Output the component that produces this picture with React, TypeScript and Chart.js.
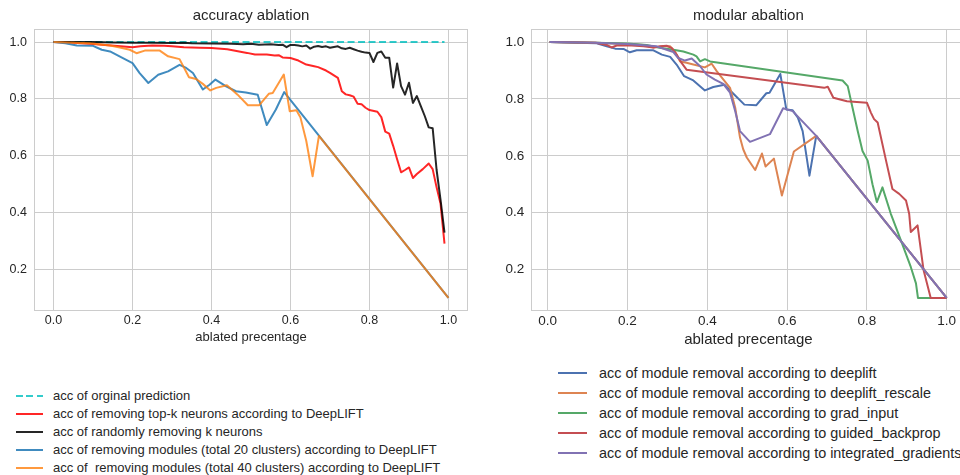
import React, { useEffect, useRef } from 'react';
import { Chart, registerables } from 'chart.js';

Chart.register(...registerables);

const FONT = "'Liberation Sans', Arial, sans-serif";
const TEXT = '#262626';
const GRID = '#cccccc';

const xTicks = [0, 0.2, 0.4, 0.6, 0.8, 1.0];
const yTicks = [0.2, 0.4, 0.6, 0.8, 1.0];

// ---------- left: accuracy ablation ----------
const origX = [0, 0.99];
const origY = [1.0, 1.0];

const topkX = [0, 0.05, 0.1, 0.13, 0.17, 0.2, 0.22, 0.25, 0.28, 0.3, 0.33, 0.37, 0.4, 0.44, 0.47, 0.49, 0.51, 0.54, 0.56, 0.57, 0.58, 0.6, 0.62, 0.64, 0.66, 0.67, 0.69, 0.7, 0.72, 0.73, 0.74, 0.75, 0.76, 0.77, 0.78, 0.79, 0.8, 0.82, 0.83, 0.84, 0.85, 0.86, 0.87, 0.88, 0.89, 0.9, 0.91, 0.92, 0.935, 0.95, 0.96, 0.97, 0.98, 0.99];
const topkY = [1, 0.998, 0.993, 0.99, 0.985, 0.982, 0.985, 0.988, 0.987, 0.985, 0.982, 0.98, 0.979, 0.975, 0.967, 0.962, 0.956, 0.956, 0.953, 0.954, 0.946, 0.944, 0.935, 0.921, 0.915, 0.912, 0.9, 0.892, 0.874, 0.827, 0.816, 0.813, 0.808, 0.783, 0.781, 0.769, 0.761, 0.755, 0.736, 0.685, 0.678, 0.635, 0.588, 0.542, 0.55, 0.559, 0.522, 0.536, 0.553, 0.573, 0.553, 0.489, 0.431, 0.291];

const randX = [0, 0.05, 0.1, 0.15, 0.2, 0.25, 0.3, 0.33, 0.35, 0.4, 0.45, 0.48, 0.5, 0.52, 0.55, 0.57, 0.58, 0.59, 0.6, 0.61, 0.62, 0.63, 0.64, 0.65, 0.66, 0.67, 0.68, 0.69, 0.7, 0.71, 0.72, 0.73, 0.74, 0.75, 0.76, 0.77, 0.78, 0.79, 0.8, 0.81, 0.82, 0.83, 0.84, 0.85, 0.86, 0.87, 0.88, 0.89, 0.9, 0.91, 0.92, 0.93, 0.94, 0.95, 0.96, 0.97, 0.98, 0.99];
const randY = [1, 1, 1, 0.999, 0.998, 0.998, 0.997, 0.998, 0.996, 0.995, 0.994, 0.992, 0.994, 0.991, 0.992, 0.99, 0.991, 0.982, 0.99, 0.99, 0.988, 0.985, 0.988, 0.977, 0.984, 0.986, 0.983, 0.985, 0.98, 0.983, 0.985, 0.978, 0.976, 0.98, 0.975, 0.97, 0.966, 0.963, 0.962, 0.93, 0.962, 0.967, 0.945, 0.945, 0.84, 0.925, 0.845, 0.815, 0.857, 0.786, 0.81, 0.775, 0.74, 0.7, 0.697, 0.55, 0.445, 0.33];

const mod20X = [0, 0.03, 0.059, 0.1, 0.122, 0.143, 0.172, 0.2, 0.218, 0.24, 0.265, 0.29, 0.319, 0.336, 0.353, 0.378, 0.395, 0.41, 0.437, 0.462, 0.487, 0.517, 0.54, 0.563, 0.584, 1.0];
const mod20Y = [1, 0.996, 0.988, 0.987, 0.973, 0.967, 0.946, 0.926, 0.891, 0.856, 0.885, 0.897, 0.92, 0.909, 0.891, 0.833, 0.85, 0.868, 0.844, 0.827, 0.823, 0.815, 0.708, 0.763, 0.824, 0.1];

const mod40X = [0, 0.092, 0.143, 0.168, 0.193, 0.21, 0.231, 0.269, 0.29, 0.319, 0.343, 0.361, 0.378, 0.397, 0.412, 0.439, 0.466, 0.492, 0.521, 0.545, 0.555, 0.583, 0.598, 0.615, 0.625, 0.64, 0.656, 0.672, 1.0];
const mod40Y = [1, 0.996, 0.988, 0.981, 0.973, 0.961, 0.97, 0.97, 0.95, 0.94, 0.876, 0.87, 0.853, 0.83, 0.839, 0.848, 0.815, 0.778, 0.778, 0.818, 0.821, 0.886, 0.757, 0.76, 0.736, 0.652, 0.528, 0.67, 0.1];

// ---------- right: modular abaltion ----------
const dlX = [0.005, 0.123, 0.148, 0.169, 0.19, 0.206, 0.223, 0.265, 0.286, 0.307, 0.323, 0.342, 0.365, 0.394, 0.415, 0.443, 0.468, 0.493, 0.523, 0.548, 0.556, 0.583, 0.598, 0.614, 0.627, 0.639, 0.656, 0.673, 1.0];
const dlY = [1, 0.996, 0.985, 0.977, 0.976, 0.964, 0.971, 0.971, 0.956, 0.948, 0.921, 0.88, 0.865, 0.83, 0.842, 0.85, 0.815, 0.78, 0.778, 0.82, 0.822, 0.888, 0.763, 0.76, 0.734, 0.687, 0.53, 0.67, 0.1];

const dlrX = [0.005, 0.12, 0.2, 0.24, 0.265, 0.29, 0.307, 0.319, 0.332, 0.348, 0.365, 0.394, 0.411, 0.424, 0.444, 0.457, 0.47, 0.482, 0.49, 0.499, 0.52, 0.537, 0.546, 0.567, 0.587, 0.617, 0.673, 1.0];
const dlrY = [1, 0.998, 0.993, 0.99, 0.981, 0.985, 0.985, 0.967, 0.932, 0.927, 0.921, 0.911, 0.924, 0.897, 0.862, 0.839, 0.769, 0.664, 0.623, 0.594, 0.55, 0.608, 0.562, 0.59, 0.46, 0.615, 0.67, 0.1];

const giX = [0.005, 0.12, 0.2, 0.248, 0.28, 0.315, 0.34, 0.365, 0.373, 0.382, 0.394, 0.407, 0.739, 0.752, 0.764, 0.777, 0.789, 0.802, 0.814, 0.825, 0.839, 0.86, 0.885, 0.91, 0.923, 0.928, 1.0];
const giY = [1, 0.998, 0.995, 0.99, 0.98, 0.973, 0.967, 0.956, 0.95, 0.932, 0.94, 0.932, 0.865, 0.845, 0.769, 0.687, 0.617, 0.583, 0.5, 0.437, 0.489, 0.396, 0.303, 0.209, 0.151, 0.1, 0.1];

const gbX = [0.005, 0.12, 0.148, 0.16, 0.173, 0.21, 0.24, 0.265, 0.282, 0.298, 0.311, 0.323, 0.336, 0.348, 0.693, 0.702, 0.716, 0.75, 0.8, 0.81, 0.818, 0.827, 0.848, 0.864, 0.881, 0.898, 0.906, 0.91, 0.927, 0.942, 0.96, 1.0];
const gbY = [1, 0.998, 0.99, 0.981, 0.988, 0.988, 0.985, 0.981, 0.985, 0.987, 0.979, 0.956, 0.926, 0.903, 0.839, 0.843, 0.804, 0.792, 0.787, 0.752, 0.729, 0.717, 0.583, 0.483, 0.466, 0.443, 0.396, 0.332, 0.355, 0.198, 0.1, 0.1];

const igX = [0.005, 0.12, 0.2, 0.273, 0.298, 0.315, 0.327, 0.344, 0.361, 0.382, 0.398, 0.419, 0.44, 0.457, 0.47, 0.482, 0.507, 0.557, 0.59, 0.614, 0.673, 1.0];
const igY = [1, 0.998, 0.993, 0.985, 0.973, 0.965, 0.944, 0.935, 0.942, 0.915, 0.886, 0.868, 0.853, 0.822, 0.757, 0.687, 0.649, 0.676, 0.767, 0.757, 0.67, 0.1];

type Series = { label: string; xs: number[]; ys: number[]; color: string; dash?: number[] };

const leftSeries: Series[] = [
  { label: 'acc of orginal prediction', xs: origX, ys: origY, color: 'rgba(0,191,191,0.8)', dash: [7, 3.5] },
  { label: 'acc of removing top-k neurons according to DeepLIFT', xs: topkX, ys: topkY, color: 'rgba(255,0,0,0.85)' },
  { label: 'acc of randomly removing k neurons', xs: randX, ys: randY, color: 'rgba(0,0,0,0.85)' },
  { label: 'acc of removing modules (total 20 clusters) according to DeepLIFT', xs: mod20X, ys: mod20Y, color: 'rgba(31,119,180,0.85)' },
  { label: 'acc of  removing modules (total 40 clusters) according to DeepLIFT', xs: mod40X, ys: mod40Y, color: 'rgba(255,127,14,0.8)' },
];

const rightSeries: Series[] = [
  { label: 'acc of module removal according to deeplift', xs: dlX, ys: dlY, color: '#4C72B0' },
  { label: 'acc of module removal according to deeplift_rescale', xs: dlrX, ys: dlrY, color: '#DD8452' },
  { label: 'acc of module removal according to grad_input', xs: giX, ys: giY, color: '#55A868' },
  { label: 'acc of module removal according to guided_backprop', xs: gbX, ys: gbY, color: '#C44E52' },
  { label: 'acc of module removal according to integrated_gradients', xs: igX, ys: igY, color: '#8172B3' },
];

const framePlugin = {
  id: 'frame',
  beforeDatasetsDraw(chart: any) {
    const { ctx, chartArea } = chart;
    const l = Math.round(chartArea.left) + 0.5;
    const t = Math.round(chartArea.top) + 0.5;
    const r = Math.round(chartArea.right) - 0.5;
    const b = Math.round(chartArea.bottom) - 0.5;
    ctx.save();
    ctx.strokeStyle = GRID;
    ctx.lineWidth = 1;
    ctx.strokeRect(l, t, r - l, b - t);
    ctx.restore();
  },
};

const titlePlugin = {
  id: 'plotTitle',
  afterDraw(chart: any, _args: any, opts: any) {
    const { ctx, chartArea } = chart;
    ctx.save();
    ctx.font = `${opts.size}px ${FONT}`;
    ctx.fillStyle = TEXT;
    ctx.textAlign = 'center';
    ctx.textBaseline = 'middle';
    ctx.fillText(opts.text, (chartArea.left + chartArea.right) / 2, opts.y);
    ctx.restore();
  },
};

type ChartProps = {
  title: string;
  series: Series[];
  width: number;
  height: number;
  xMin: number;
  xMax: number;
  yMin: number;
  yMax: number;
  yAxisWidth: number;
  xAxisHeight: number;
  padRight: number;
  padTop: number;
  tickSize: number;
  labelSize: number;
  titleSize: number;
  titleY: number;
  xTickPad: number;
  yTickPad: number;
  xTitlePadBottom: number;
  lineWidth: number;
};

function LineChart(p: ChartProps) {
  const ref = useRef<HTMLCanvasElement>(null);
  useEffect(() => {
    if (!ref.current) return;
    const n = p.series.length;
    const chart = new Chart(ref.current, {
      type: 'line',
      data: {
        datasets: p.series.map((s, i) => ({
          label: s.label,
          data: s.xs.map((x, j) => ({ x, y: s.ys[j] })),
          borderColor: s.color,
          backgroundColor: s.color,
          borderWidth: p.lineWidth,
          borderDash: s.dash || [],
          borderJoinStyle: 'round' as const,
          pointRadius: 0,
          tension: 0,
          fill: false,
          order: n - i,
        })),
      },
      options: {
        responsive: false,
        animation: false,
        devicePixelRatio: 1,
        layout: { padding: { top: p.padTop, right: p.padRight, left: 0, bottom: 0 } },
        plugins: {
          legend: { display: false },
          tooltip: { enabled: false },
          plotTitle: { text: p.title, size: p.titleSize, y: p.titleY },
        } as any,
        scales: {
          x: {
            type: 'linear',
            min: p.xMin,
            max: p.xMax,
            afterBuildTicks: (s: any) => { s.ticks = xTicks.map((v) => ({ value: v })); },
            afterFit: (s: any) => { s.height = p.xAxisHeight; },
            ticks: {
              callback: (v: any) => Number(v).toFixed(1),
              font: { family: FONT, size: p.tickSize },
              color: TEXT,
              padding: p.xTickPad,
              maxRotation: 0,
              autoSkip: false,
            },
            grid: { color: GRID, lineWidth: 1, drawTicks: false },
            border: { display: false },
            title: {
              display: true,
              text: 'ablated precentage',
              font: { family: FONT, size: p.labelSize },
              color: TEXT,
              padding: { top: 0, bottom: p.xTitlePadBottom },
            },
          },
          y: {
            type: 'linear',
            min: p.yMin,
            max: p.yMax,
            afterBuildTicks: (s: any) => { s.ticks = yTicks.map((v) => ({ value: v })); },
            afterFit: (s: any) => { s.width = p.yAxisWidth; },
            ticks: {
              callback: (v: any) => Number(v).toFixed(1),
              font: { family: FONT, size: p.tickSize },
              color: TEXT,
              padding: p.yTickPad,
            },
            grid: { color: GRID, lineWidth: 1, drawTicks: false },
            border: { display: false },
          },
        },
      },
      plugins: [framePlugin, titlePlugin],
    } as any);
    return () => chart.destroy();
  }, []);
  return <canvas ref={ref} width={p.width} height={p.height} style={{ width: p.width, height: p.height, display: 'block' }} />;
}

type LegendProps = { series: Series[]; sampleLeft: number; sampleWidth: number; textLeft: number; rowYs: number[]; fontSize: number; lineWidth: number };

function Legend(p: LegendProps) {
  return (
    <>
      {p.series.map((s, i) => (
        <React.Fragment key={i}>
          <div
            style={{
              position: 'absolute',
              left: p.sampleLeft,
              top: p.rowYs[i] - p.lineWidth / 2,
              width: p.sampleWidth,
              height: p.lineWidth,
              background: s.dash
                ? `repeating-linear-gradient(to right, ${s.color} 0px, ${s.color} 7px, transparent 7px, transparent 10.5px)`
                : s.color,
            }}
          />
          <div
            style={{
              position: 'absolute',
              left: p.textLeft,
              top: p.rowYs[i] - 10,
              height: 20,
              lineHeight: '20px',
              fontFamily: FONT,
              fontSize: p.fontSize,
              color: TEXT,
              whiteSpace: 'pre',
            }}
          >
            {s.label}
          </div>
        </React.Fragment>
      ))}
    </>
  );
}

export default function App() {
  return (
    <div style={{ position: 'absolute', left: 0, top: 0, width: 960, height: 475, overflow: 'hidden', background: '#fff' }}>
      <div style={{ position: 'absolute', left: 0, top: 0, width: 480, height: 350 }}>
        <LineChart
          title="accuracy ablation"
          series={leftSeries}
          width={480}
          height={350}
          xMin={-0.0495}
          xMax={1.0495}
          yMin={0.055}
          yMax={1.045}
          yAxisWidth={34}
          xAxisHeight={39.3}
          padRight={12}
          padTop={29.3}
          tickSize={12.5}
          labelSize={13}
          titleSize={15}
          titleY={15.7}
          xTickPad={2}
          yTickPad={7}
          xTitlePadBottom={5.2}
          lineWidth={2}
        />
      </div>
      <div style={{ position: 'absolute', left: 480, top: 0, width: 480, height: 350, overflow: 'hidden' }}>
        <LineChart
          title="modular abaltion"
          series={rightSeries}
          width={486}
          height={350}
          xMin={-0.0426}
          xMax={1.0484}
          yMin={0.055}
          yMax={1.045}
          yAxisWidth={50.7}
          xAxisHeight={39.3}
          padRight={0}
          padTop={29.3}
          tickSize={13.5}
          labelSize={15}
          titleSize={15}
          titleY={15.7}
          xTickPad={2}
          yTickPad={6.4}
          xTitlePadBottom={1}
          lineWidth={2}
        />
      </div>
      <Legend series={leftSeries} sampleLeft={16} sampleWidth={27} textLeft={53} rowYs={[396, 414, 432, 450, 468]} fontSize={13} lineWidth={2} />
      <Legend series={rightSeries} sampleLeft={558} sampleWidth={29} textLeft={599} rowYs={[373, 393, 413, 433, 453]} fontSize={14.4} lineWidth={2} />
    </div>
  );
}
